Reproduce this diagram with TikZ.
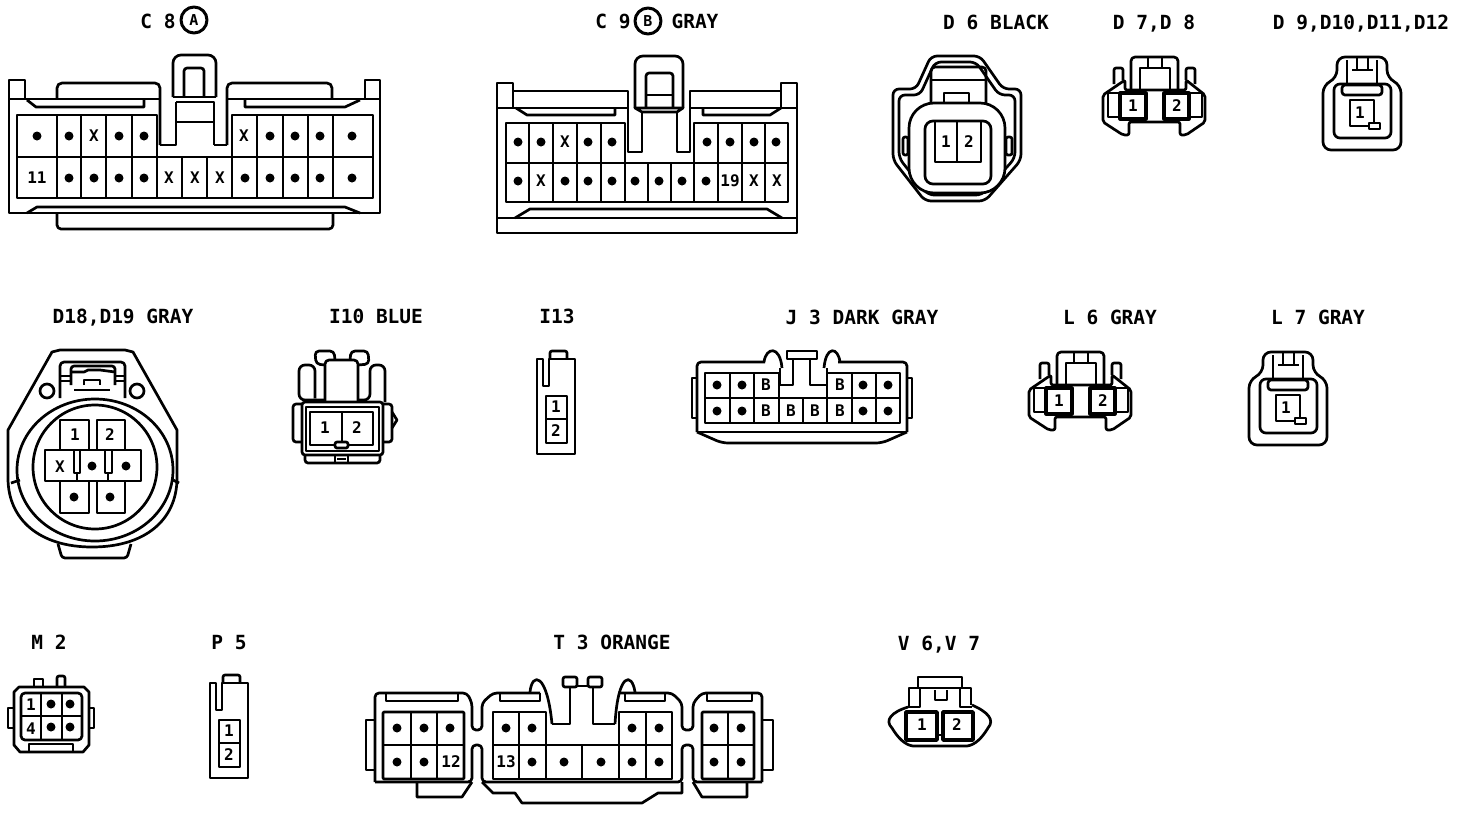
\documentclass[tikz,border=0pt]{standalone}
\usepackage{fontspec}
\newfontfamily\labfont{DejaVu Sans Mono}

% two pin clip connector (D7, L6)
\newcommand{\clipconn}[1]{
  \draw[rounded corners=2pt] (1103,95) -- (1125,80) -- (1125,90) -- (1186,90) -- (1186,80) -- (1205,95)
    -- (1205,122) -- (1186,135) -- (1180,135) -- (1180,122) -- (1129,122) -- (1129,135) -- (1123,135) -- (1103,122) -- cycle;
  \draw[rounded corners=4pt] (1131,90) -- (1131,57) -- (1178,57) -- (1178,90);
  \draw (1140,90) -- (1140,68) -- (1170,68) -- (1170,90);
  \draw (1148,57) -- (1148,68) (1162,57) -- (1162,68);
  \draw[rounded corners=2pt] (1114,84) -- (1114,68) -- (1123,68) -- (1123,80);
  \draw[rounded corners=2pt] (1186,80) -- (1186,68) -- (1195,68) -- (1195,84);
  \draw (1108,93) rectangle (1120,117);
  \draw (1189,93) rectangle (1202,117);
  \draw[line width=3.2pt] (1120,93) rectangle (1146,119);
  \draw[line width=3.2pt] (1164,93) rectangle (1189,119);
  \node[pinlab] (#1a) at (1133,106) {1};
  \node[pinlab] (#1b) at (1177,106) {2};
}
% one pin connector (D9, L7)
\newcommand{\tabconn}[1]{
  \draw[rounded corners=8pt] (1337,78) -- (1337,57) -- (1387,57) -- (1387,78) -- (1401,85)
    -- (1401,150) -- (1323,150) -- (1323,85) -- cycle;
  \draw[rounded corners=6pt] (1334,84) rectangle (1391,138);
  \draw[rounded corners=3pt] (1342,85) rectangle (1382,95);
  \draw (1347,85) -- (1347,60) (1377,85) -- (1377,60);
  \draw (1357,58) -- (1357,70) -- (1368,70) -- (1368,58);
  \draw (1352,70) -- (1373,70);
  \draw (1369,123) -- (1374,123) -- (1374,100) -- (1350,100) -- (1350,126) -- (1369,126);
  \draw[fill=white] (1369,123) rectangle (1380,129);
  \node[pinlab] (#1a) at (1360,113) {1};
}
% narrow two pin housing (I13, P5)
\newcommand{\stickconn}[1]{
  \draw (543,359) -- (537,359) -- (537,454) -- (575,454) -- (575,359) -- (549,359) -- (549,386) -- (543,386) -- cycle;
  \draw[rounded corners=2pt] (550,359) -- (550,351) -- (567,351) -- (567,359);
  \draw (546,396) rectangle (567,443);
  \draw (546,419) -- (567,419);
  \node[pinlab] (#1a) at (556,407) {1};
  \node[pinlab] (#1b) at (556,431) {2};
}

\begin{document}
\begin{tikzpicture}[
    x=1pt, y=-1pt,
    line width=2.7pt, % all outlines
    line join=round
  ]

  \tikzstyle{tag}=[inner sep=0pt, text height=14pt, text depth=0pt, font=\labfont\bfseries\fontsize{19.5}{20}\selectfont]
  \tikzstyle{pinlab}=[inner sep=0pt, font=\labfont\bfseries\fontsize{16}{16}\selectfont]
  \tikzstyle{hole}=[circle, fill=black, inner sep=0pt, minimum size=9pt]
  \tikzstyle{badge}=[circle, draw, line width=3pt, inner sep=0pt, minimum size=26pt, font=\labfont\bfseries\fontsize{15}{15}\selectfont]

  \useasboundingbox (0,0) rectangle (1472,812);

  % labels
  \node[tag] (c8) at (158,21) {C 8};
  \node[badge] (c8a) at (194,20) {A};
  \node[tag] (c9) at (613,21) {C 9};
  \node[badge] (c9b) at (648,21) {B};
  \node[tag] (c9g) at (695,21) {GRAY};
  \node[tag] (d6) at (996,22) {D 6 BLACK};
  \node[tag] (d7) at (1154,22) {D 7,D 8};
  \node[tag] (d9) at (1361,22) {D 9,D10,D11,D12};
  \node[tag] (d18) at (123,316) {D18,D19 GRAY};
  \node[tag] (i10) at (376,316) {I10 BLUE};
  \node[tag] (i13) at (557,316) {I13};
  \node[tag] (j3) at (862,317) {J 3 DARK GRAY};
  \node[tag] (l6) at (1110,317) {L 6 GRAY};
  \node[tag] (l7) at (1318,317) {L 7 GRAY};
  \node[tag] (m2) at (49,642) {M 2};
  \node[tag] (p5) at (229,642) {P 5};
  \node[tag] (t3) at (612,642) {T 3 ORANGE};
  \node[tag] (v6) at (939,643) {V 6,V 7};

  % C8
  \draw (160,99) -- (9,99) -- (9,80) -- (25,80) -- (25,99);
  \draw (9,99) -- (9,213) -- (380,213) -- (380,99) -- (227,99);
  \draw (365,99) -- (365,80) -- (380,80) -- (380,99);
  \draw[rounded corners=5pt] (57,99) -- (57,83) -- (160,83) -- (160,145);
  \draw (160,145) -- (176,145) -- (176,102);
  \draw[rounded corners=8pt] (173,97) -- (173,55) -- (216,55) -- (216,97);
  \draw[rounded corners=3pt] (184,97) -- (184,68) -- (204,68) -- (204,97);
  \draw (173,97) -- (216,97);
  \draw (176,102) -- (214,102) -- (214,145) (176,122) -- (214,122);
  \draw (214,145) -- (227,145);
  \draw[rounded corners=5pt] (227,145) -- (227,83) -- (332,83) -- (332,99);
  \draw (27,100) -- (36,107) -- (144,107) -- (144,100);
  \draw (245,100) -- (245,107) -- (345,107) -- (360,100);
  \draw (17,198) -- (373,198) -- (373,115) -- (232,115) -- (232,157) -- (157,157) -- (157,115) -- (17,115) -- cycle;
  \draw (17,157) -- (157,157) (232,157) -- (373,157);
  \foreach \x in {57,81,106,132} \draw (\x,115) -- (\x,198);
  \foreach \x in {157,182,207} \draw (\x,157) -- (\x,198);
  \foreach \x in {257,283,308,333} \draw (\x,115) -- (\x,198);
  \draw (232,157) -- (232,198);
  \draw (27,213) -- (37,207) -- (345,207) -- (360,213);
  \draw[rounded corners=4pt] (57,213) -- (57,229) -- (333,229) -- (333,213);
  \foreach \x in {37,69,119,144,270,295,320,352} \node[hole] (c8t\x) at (\x,136) {};
  \foreach \x in {69,94,119,144,245,270,295,320,352} \node[hole] (c8b\x) at (\x,178) {};
  \node[pinlab] (c8p1) at (94,136) {X};
  \node[pinlab] (c8p2) at (244,136) {X};
  \node[pinlab] (c8p3) at (37,178) {11};
  \foreach \x in {169,195,220} \node[pinlab] (c8x\x) at (\x,178) {X};

  % C9
  \draw (497,108) -- (497,83) -- (513,83) -- (513,108);
  \draw (781,108) -- (781,83) -- (797,83) -- (797,108);
  \draw (497,108) -- (497,233) -- (797,233) -- (797,108);
  \draw (497,108) -- (628,108) (690,108) -- (797,108);
  \draw (513,91) -- (628,91) -- (628,152) -- (642,152) -- (642,112);
  \draw (677,112) -- (677,152) -- (690,152) -- (690,91) -- (781,91);
  \draw[rounded corners=8pt] (635,108) -- (635,56) -- (683,56) -- (683,108);
  \draw (635,108) -- (642,112) -- (677,112) -- (683,108) -- cycle;
  \draw[rounded corners=3pt] (646,107) -- (646,73) -- (673,73) -- (673,107);
  \draw (646,95) -- (673,95);
  \draw (516,108) -- (527,115) -- (615,115) -- (615,108);
  \draw (703,108) -- (703,115) -- (770,115) -- (781,108);
  \draw (506,202) -- (788,202) -- (788,123) -- (694,123) -- (694,163) -- (625,163) -- (625,123) -- (506,123) -- cycle;
  \draw (506,163) -- (625,163) (694,163) -- (788,163);
  \foreach \x in {529,553,577,601} \draw (\x,123) -- (\x,202);
  \foreach \x in {625,648,671,694} \draw (\x,163) -- (\x,202);
  \foreach \x in {718,742,765} \draw (\x,123) -- (\x,202);
  \draw (515,218) -- (530,209) -- (767,209) -- (782,218);
  \draw (497,218) -- (797,218);
  \foreach \x in {518,541,588,612,707,730,754,776} \node[hole] (c9t\x) at (\x,142) {};
  \foreach \x in {518,565,588,612,635,659,682,706} \node[hole] (c9b\x) at (\x,181) {};
  \node[pinlab] (c9p1) at (565,142) {X};
  \node[pinlab] (c9p2) at (541,181) {X};
  \node[pinlab] (c9p3) at (730,181) {19};
  \node[pinlab] (c9p4) at (754,181) {X};
  \node[pinlab] (c9p5) at (777,181) {X};

  % D6
  \draw[rounded corners=6pt] (893,89) -- (916,89) -- (931,56) -- (980,56) -- (1003,89) -- (1021,89)
    -- (1021,160) -- (985,201) -- (925,201) -- (893,160) -- cycle;
  \draw[rounded corners=6pt] (899,95) -- (920,95) -- (935,62) -- (976,62) -- (999,95) -- (1015,95)
    -- (1015,158) -- (982,195) -- (928,195) -- (899,158) -- cycle;
  \draw[rounded corners=4pt] (931,103) -- (931,67) -- (986,67) -- (986,103);
  \draw (931,80) -- (986,80);
  \draw (944,103) -- (944,93) -- (969,93) -- (969,103);
  \draw[fill=white, rounded corners=25pt] (909,103) rectangle (1005,193);
  \draw[rounded corners=8pt] (925,121) rectangle (991,184);
  \draw (935,121) rectangle (981,162);
  \draw (957,121) -- (957,162);
  \draw[rounded corners=2pt] (903,137) rectangle (908,155);
  \draw[rounded corners=2pt] (1006,137) rectangle (1012,155);
  \node[pinlab] (d6a) at (946,142) {1};
  \node[pinlab] (d6b) at (969,142) {2};

  % D7,D8 and L6
  \clipconn{d7p}
  \begin{scope}[shift={(-74,295)}]
    \clipconn{l6p}
  \end{scope}

  % D9..D12 and L7
  \tabconn{d9p}
  \begin{scope}[shift={(-74,295)}]
    \tabconn{l7p}
  \end{scope}

  % D18,D19
  \draw (52,352) -- (60,350) -- (125,350) -- (133,352) -- (177,430) -- (177,478)
    .. controls (177,520) and (145,547) .. (92,547) .. controls (40,547) and (8,520) .. (8,478) -- (8,430) -- cycle;
  \draw[rounded corners=3pt] (58,544) -- (62,558) -- (127,558) -- (131,544);
  \draw (95,470) ellipse[x radius=78pt, y radius=71pt];
  \draw (95,467) circle[radius=62pt];
  \draw[rounded corners=4pt] (60,398) -- (60,362) -- (125,362) -- (125,398);
  \draw[rounded corners=3pt] (71,385) -- (71,366) -- (115,366) -- (115,385);
  \draw (71,372) -- (84,372) -- (88,370) -- (100,370) -- (115,372);
  \draw (84,385) -- (84,380) -- (100,380) -- (100,385);
  \draw (74,390) -- (110,390);
  \draw (60,376) -- (71,376) (60,381) -- (71,381) (115,376) -- (125,376) (115,381) -- (125,381);
  \draw (47,391) circle[radius=7pt];
  \draw (137,391) circle[radius=7pt];
  \draw (11,483) -- (20,480) (173,480) -- (179,483);
  \draw (60,450) -- (60,420) -- (89,420) -- (89,450);
  \draw (97,450) -- (97,420) -- (125,420) -- (125,450);
  \draw (45,450) -- (141,450) -- (141,481) -- (45,481) -- cycle;
  \draw (60,481) -- (60,513) -- (89,513) -- (89,481);
  \draw (97,481) -- (97,513) -- (125,513) -- (125,481);
  \draw (74,450) -- (74,473) -- (80,473) -- (80,450) (77,473) -- (77,481);
  \draw (105,450) -- (105,473) -- (112,473) -- (112,450) (108,473) -- (108,481);
  \node[pinlab] (d18a) at (75,435) {1};
  \node[pinlab] (d18b) at (110,435) {2};
  \node[pinlab] (d18c) at (60,467) {X};
  \node[hole] (d18d) at (92,466) {};
  \node[hole] (d18e) at (126,466) {};
  \node[hole] (d18f) at (74,497) {};
  \node[hole] (d18g) at (110,497) {};

  % I10
  \draw[rounded corners=4pt] (325,402) -- (325,360) -- (358,360) -- (358,402);
  \draw[rounded corners=4pt] (325,365) -- (316,364) -- (315,351) -- (334,351) -- (335,360);
  \draw[rounded corners=4pt] (350,360) -- (351,351) -- (368,351) -- (369,364) -- (358,365);
  \draw[rounded corners=6pt] (325,400) -- (315,400) -- (299,400) -- (299,365) -- (315,365) -- (315,398);
  \draw[rounded corners=6pt] (358,400) -- (370,400) -- (370,365) -- (385,365) -- (385,402);
  \draw[rounded corners=3pt] (302,402) rectangle (383,455);
  \draw (306,407) rectangle (379,451);
  \draw (310,412) rectangle (373,445);
  \draw (342,412) -- (342,442);
  \draw[rounded corners=2pt, fill=white] (335,442) rectangle (348,448);
  \draw[rounded corners=3pt] (302,404) -- (293,404) -- (293,442) -- (302,442);
  \draw[rounded corners=3pt] (383,404) -- (392,404) -- (392,442) -- (383,442);
  \draw (392,412) -- (397,420) -- (392,428);
  \draw[rounded corners=3pt] (305,455) -- (305,463) -- (380,463) -- (380,455);
  \draw (335,455) -- (335,463) (348,455) -- (348,463) (337,459) -- (346,459);
  \node[pinlab] (i10a) at (325,428) {1};
  \node[pinlab] (i10b) at (357,428) {2};

  % I13 and P5
  \stickconn{i13p}
  \begin{scope}[shift={(-327,324)}]
    \stickconn{p5p}
  \end{scope}

  % J3
  \draw[rounded corners=4pt] (697,432) -- (697,362) -- (765,362);
  \draw (764,362) .. controls (766,347) and (780,345) .. (782,368);
  \draw (780,368) -- (780,385) -- (793,385) -- (793,359);
  \draw (787,359) -- (787,351) -- (817,351) -- (817,359) -- cycle;
  \draw (810,359) -- (810,385) -- (827,385) -- (827,368);
  \draw (824,368) .. controls (826,345) and (838,347) .. (840,362);
  \draw[rounded corners=4pt] (838,362) -- (907,362) -- (907,432);
  \draw (697,432) -- (907,432);
  \draw[rounded corners=6pt] (697,432) -- (722,443) -- (882,443) -- (907,432);
  \draw (705,423) -- (900,423) -- (900,373) -- (827,373) -- (827,398) -- (779,398) -- (779,373) -- (705,373) -- cycle;
  \draw (705,398) -- (779,398) (827,398) -- (900,398);
  \foreach \x in {730,754} \draw (\x,373) -- (\x,423);
  \foreach \x in {779,803,827} \draw (\x,398) -- (\x,423);
  \foreach \x in {852,876} \draw (\x,373) -- (\x,423);
  \draw (697,378) -- (692,378) -- (692,418) -- (697,418);
  \draw (907,378) -- (912,378) -- (912,418) -- (907,418);
  \foreach \x in {717,742,863,888} \node[hole] (j3t\x) at (\x,385) {};
  \foreach \x in {717,742,863,888} \node[hole] (j3b\x) at (\x,411) {};
  \node[pinlab] (j3p1) at (766,385) {B};
  \node[pinlab] (j3p2) at (840,385) {B};
  \foreach \x in {766,791,815,840} \node[pinlab] (j3x\x) at (\x,411) {B};

  % M2
  \draw (19,687) -- (84,687) -- (89,692) -- (89,745) -- (83,752) -- (20,752) -- (14,745) -- (14,692) -- cycle;
  \draw (34,687) -- (34,679) -- (43,679) -- (43,687);
  \draw[rounded corners=2pt] (57,687) -- (57,676) -- (65,676) -- (65,687);
  \draw (14,708) -- (8,708) -- (8,728) -- (14,728);
  \draw (89,708) -- (94,708) -- (94,728) -- (89,728);
  \draw[rounded corners=4pt] (21,693) rectangle (82,740);
  \draw (41,693) -- (41,740) (62,693) -- (62,740) (21,716) -- (82,716);
  \draw (29,752) -- (29,744) -- (73,744) -- (73,752);
  \node[pinlab] (m2a) at (31,705) {1};
  \node[pinlab] (m2b) at (31,729) {4};
  \node[hole] (m2c) at (51,704) {};
  \node[hole] (m2d) at (70,704) {};
  \node[hole] (m2e) at (51,727) {};
  \node[hole] (m2f) at (70,727) {};

  % T3
  \draw[rounded corners=4pt] (375,782) -- (375,693) -- (467,693) -- (472,703) -- (472,730) -- (482,730) -- (482,703) -- (493,693) -- (540,693);
  \draw (386,693) -- (386,701) -- (458,701) -- (458,693);
  \draw (500,693) -- (500,701) -- (540,701) -- (540,693);
  \draw (530,692) .. controls (532,672) and (547,672) .. (552,724);
  \draw (552,724) -- (570,724) -- (570,687);
  \draw[rounded corners=2pt] (563,677) rectangle (577,687);
  \draw[rounded corners=2pt] (588,677) rectangle (602,687);
  \draw (577,686) -- (588,686);
  \draw (593,687) -- (593,724) -- (615,724);
  \draw (615,724) .. controls (618,672) and (632,672) .. (635,692);
  \draw[rounded corners=4pt] (618,693) -- (672,693) -- (682,703) -- (682,730) -- (693,730) -- (693,703) -- (702,693) -- (762,693) -- (762,782);
  \draw (625,693) -- (625,701) -- (665,701) -- (665,693);
  \draw (707,693) -- (707,701) -- (752,701) -- (752,693);
  \draw (375,720) -- (366,720) -- (366,770) -- (375,770);
  \draw (762,720) -- (773,720) -- (773,770) -- (762,770);
  \draw[rounded corners=4pt] (375,782) -- (472,782) -- (472,745) -- (482,745) -- (482,782) -- (682,782) -- (682,745) -- (693,745) -- (693,782) -- (762,782);
  \draw (482,782) -- (493,793) -- (515,793) -- (522,803) -- (642,803) -- (658,793) -- (682,793) -- (682,782);
  \draw (417,782) -- (417,797) -- (462,797) -- (472,782);
  \draw (693,782) -- (702,797) -- (747,797) -- (747,782);
  \draw[rounded corners=1pt] (383,712) rectangle (464,779);
  \draw (383,745) -- (464,745) (411,712) -- (411,779) (437,712) -- (437,779);
  \draw (493,779) -- (672,779) -- (672,712) -- (619,712) -- (619,745) -- (546,745) -- (546,712) -- (493,712) -- cycle;
  \draw (493,745) -- (546,745) (619,745) -- (672,745);
  \draw (519,712) -- (519,779) (546,745) -- (546,779) (582,745) -- (582,779) (619,745) -- (619,779) (646,712) -- (646,779);
  \draw[rounded corners=1pt] (702,712) rectangle (754,779);
  \draw (702,745) -- (754,745) (728,712) -- (728,779);
  \foreach \x in {397,424,450,506,532,632,659,714,741} \node[hole] (t3t\x) at (\x,728) {};
  \foreach \x in {397,424,532,564,601,632,659,714,741} \node[hole] (t3b\x) at (\x,762) {};
  \node[pinlab] (t3p1) at (451,762) {12};
  \node[pinlab] (t3p2) at (506,762) {13};

  % V6,V7
  \draw (908,707) .. controls (892,712) and (884,720) .. (892,728) .. controls (898,738) and (905,745) .. (913,746) -- (967,746)
    .. controls (975,745) and (982,738) .. (988,728) .. controls (995,720) and (988,712) .. (972,705);
  \draw (909,707) -- (909,688) -- (971,688) -- (971,705);
  \draw (918,688) -- (918,677) -- (962,677) -- (962,688);
  \draw (920,688) -- (920,707) -- (908,707) (960,688) -- (960,707) -- (972,707);
  \draw (935,690) -- (935,700) -- (947,700) -- (947,690);
  \draw[line width=3.5pt] (906,712) rectangle (937,740);
  \draw[line width=3.5pt] (943,712) rectangle (973,740);
  \draw (937,735) -- (943,735);
  \node[pinlab] (v6a) at (922,725) {1};
  \node[pinlab] (v6b) at (957,725) {2};

\end{tikzpicture}
\end{document}
